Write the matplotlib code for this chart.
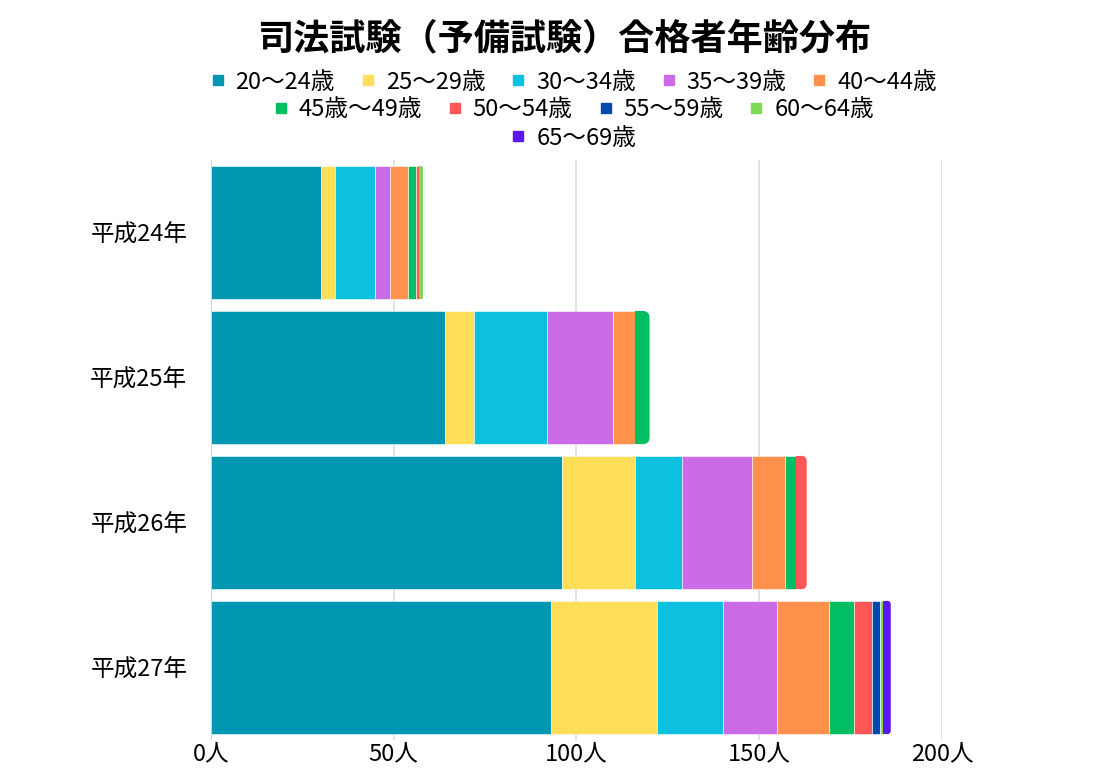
import matplotlib
matplotlib.use("Agg")
import matplotlib.pyplot as plt
from matplotlib.patches import Rectangle, FancyBboxPatch
from matplotlib.lines import Line2D

plt.rcParams['font.family'] = ['Noto Sans CJK JP', 'DejaVu Sans']

# data
years = ['平成24年', '平成25年', '平成26年', '平成27年']
groups = ['20～24歳', '25～29歳', '30～34歳', '35～39歳', '40～44歳',
          '45歳～49歳', '50～54歳', '55～59歳', '60～64歳', '65～69歳']
colors = ['#0097B2', '#FFDE59', '#0CC0DF', '#CB6CE6', '#FF914D',
          '#00BF63', '#FF5757', '#004AAD', '#7ED957', '#5E17EB']
counts = [
    [30, 4, 11, 4, 5, 2, 1, 0, 1, 0],     # 平成24年
    [64, 8, 20, 18, 6, 4, 0, 0, 0, 0],    # 平成25年
    [96, 20, 13, 19, 9, 3, 3, 0, 0, 0],   # 平成26年
    [93, 29, 18, 15, 14, 7, 5, 2, 1, 2],  # 平成27年
]
xticks = [0, 50, 100, 150, 200]

fig = plt.figure(figsize=(11, 7.68), dpi=100)
ax = fig.add_axes([0.1918, 0.0365, 0.6645, 0.755])

bar_h = 0.92
r = 1.9  # corner radius in x units
for i, row in enumerate(counts):
    left = 0
    last = max(j for j, v in enumerate(row) if v > 0)
    for j, v in enumerate(row):
        if v == 0:
            continue
        y0 = i - bar_h / 2
        if j == last:
            rr = min(r, v / 2)
            ax.add_patch(Rectangle((left, y0), v - rr, bar_h,
                                   facecolor=colors[j], edgecolor='none', zorder=3))
            ax.add_patch(FancyBboxPatch((left, y0), v, bar_h,
                                        boxstyle=f"round,pad=0,rounding_size={rr}",
                                        mutation_aspect=0.0252,
                                        facecolor=colors[j], edgecolor='none', zorder=3))
        else:
            ax.add_patch(Rectangle((left, y0), v, bar_h, facecolor=colors[j],
                                   edgecolor='white', linewidth=0.4, zorder=3))
        left += v

ax.set_xlim(0, 200)
ax.set_ylim(3.5, -0.5)
ax.set_yticks(range(len(years)))
ax.set_yticklabels(years, fontsize=17)
ax.set_xticks(xticks)
ax.set_xticklabels([f"{t}人" for t in xticks], fontsize=17)
ax.tick_params(length=0)
ax.tick_params(axis='y', pad=17)
ax.tick_params(axis='x', pad=2)
for t in xticks:
    ax.axvline(t, color='#C8C8C8' if t == 0 else '#DDDDDD', linewidth=1.2, zorder=1)
for s in ax.spines.values():
    s.set_visible(False)

fig.text(0.513, 0.950, '司法試験（予備試験）合格者年齢分布', ha='center', va='center',
         fontsize=26, fontweight='bold')

# legend in three centered rows
rows = [range(0, 5), range(5, 9), range(9, 10)]
row_y = [0.893, 0.857, 0.820]
for idx, yy in zip(rows, row_y):
    handles = [Line2D([], [], marker='s', linestyle='none', markersize=7,
                      color=colors[k]) for k in idx]
    lg = fig.legend(handles, [groups[k] for k in idx], loc='center',
                    bbox_to_anchor=(0.521, yy), ncol=len(idx), frameon=False,
                    fontsize=17, handlelength=0.7, handletextpad=0.4,
                    columnspacing=1.05, borderpad=0)

fig.savefig('out.png', dpi=100)
